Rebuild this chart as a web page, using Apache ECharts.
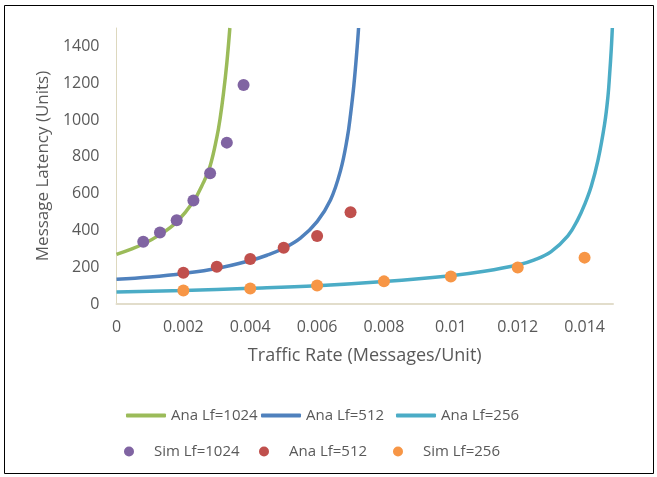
<!DOCTYPE html>
<html>
<head>
<meta charset="utf-8">
<script src="https://cdn.jsdelivr.net/npm/echarts@6/dist/echarts.min.js"></script>
<style>
  html, body { margin: 0; padding: 0; background: #fff; }
  #chart { width: 657px; height: 477px; }
</style>
</head>
<body>
<div id="chart"></div>
<script>
// Analytical latency curves: [traffic rate, latency]
const anaLf1024 = [[0,270],[0.0004,296],[0.0008,326],[0.0013,377],[0.0018,446],[0.0023,557],[0.0026,660],[0.0028,750],[0.003,905],[0.0031,1010],[0.0032,1145],[0.0033,1310],[0.00339,1500]];
const anaLf512 = [[0,134],[0.001,147],[0.002,166],[0.003,193],[0.004,236],[0.0045,265],[0.005,303],[0.0055,358],[0.006,448],[0.0064,565],[0.0067,725],[0.0069,900],[0.007,1030],[0.0071,1190],[0.0072,1400],[0.00724,1500]];
const anaLf256 = [[0,65],[0.002,74],[0.004,85],[0.006,99],[0.008,122],[0.010,154],[0.011,178],[0.012,212],[0.0125,240],[0.013,285],[0.0135,370],[0.0138,460],[0.014,540],[0.0142,640],[0.0144,780],[0.0146,980],[0.0147,1130],[0.01475,1250],[0.0148,1390],[0.01483,1500]];

// Simulation results
const simLf1024 = [[0.0008,338],[0.0013,388],[0.0018,455],[0.0023,562],[0.0028,711],[0.0033,877],[0.0038,1190]];
const simLf512 = [[0.002,170],[0.003,203],[0.004,245],[0.005,306],[0.006,370],[0.007,499]];
const simLf256 = [[0.002,74],[0.004,84],[0.006,100],[0.008,123],[0.010,149],[0.012,198],[0.014,252]];

// Legend labels as printed on the chart
const legendLabels = {
  'Ana Lf=1024': 'Ana Lf=1024',
  'Ana Lf=512': 'Ana Lf=512',
  'Ana Lf=256': 'Ana Lf=256',
  'Sim Lf=1024': 'Sim Lf=1024',
  'Sim Lf=512': 'Ana Lf=512',
  'Sim Lf=256': 'Sim Lf=256'
};

const FONT = '"Open Sans", sans-serif';
const TXT = '#595959';
const colors = {
  green: '#9BBB59', blue: '#4F81BD', cyan: '#4BACC6',
  purple: '#8064A2', red: '#C0504D', orange: '#F79646'
};

function lineSeries(name, data, color) {
  return {
    name, type: 'line', data, showSymbol: false, symbol: 'none',
    smooth: 0.4,
    lineStyle: { color, width: 3.5 }, itemStyle: { color },
    clip: true, z: 2
  };
}
function dotSeries(name, data, color) {
  return {
    name, type: 'scatter', data, symbol: 'circle', symbolSize: 12,
    itemStyle: { color, opacity: 1 }, z: 3
  };
}

function legendItem(name, left, top, isLine) {
  return {
    data: [name], left, top, orient: 'horizontal',
    icon: isLine ? 'roundRect' : 'circle',
    itemWidth: 40, itemHeight: isLine ? 4 : 10,
    textStyle: { fontFamily: FONT, fontSize: 15, color: TXT },
    formatter: n => legendLabels[n],
    selectedMode: false
  };
}

const chart = echarts.init(document.getElementById('chart'), null, { renderer: 'canvas' });
chart.setOption({
  animation: false,
  backgroundColor: '#fff',
  grid: { left: 116.5, right: 44, top: 28, bottom: 173 },
  xAxis: {
    type: 'value', min: 0, max: 0.01485, interval: 0.002,
    name: 'Traffic Rate (Messages/Unit)', nameLocation: 'middle', nameGap: 43,
    nameTextStyle: { fontFamily: FONT, fontSize: 18, color: TXT },
    axisLine: { show: true, lineStyle: { color: '#E2DDCB', width: 2 } },
    axisTick: { show: false },
    splitLine: { show: false },
    axisLabel: {
      fontFamily: FONT, fontSize: 16, color: TXT, margin: 15,
      showMaxLabel: false,
      formatter: v => String(Math.round(v * 1e6) / 1e6)
    }
  },
  yAxis: {
    type: 'value', min: 0, max: 1500, interval: 200,
    name: 'Message Latency (Units)', nameLocation: 'middle', nameGap: 56,
    nameTextStyle: { fontFamily: FONT, fontSize: 17, color: TXT },
    axisLine: { show: true, lineStyle: { color: '#DDD8BE', width: 1 } },
    axisTick: { show: false },
    splitLine: { show: false },
    axisLabel: {
      fontFamily: FONT, fontSize: 16, color: TXT, margin: 17,
      showMaxLabel: false,
      formatter: v => String(v)
    }
  },
  legend: [
    legendItem('Ana Lf=1024', 121, 403, true),
    legendItem('Ana Lf=512', 256, 403, true),
    legendItem('Ana Lf=256', 391, 403, true),
    legendItem('Sim Lf=1024', 119, 439, false),
    legendItem('Sim Lf=512', 254, 439, false),
    legendItem('Sim Lf=256', 388, 439, false)
  ],
  graphic: [{
    type: 'rect', silent: true, z: 100,
    shape: { x: 4.5, y: 5.5, width: 649, height: 468 },
    style: { fill: 'none', stroke: '#000', lineWidth: 1 }
  }],
  series: [
    lineSeries('Ana Lf=1024', anaLf1024, colors.green),
    lineSeries('Ana Lf=512', anaLf512, colors.blue),
    lineSeries('Ana Lf=256', anaLf256, colors.cyan),
    dotSeries('Sim Lf=1024', simLf1024, colors.purple),
    dotSeries('Sim Lf=512', simLf512, colors.red),
    dotSeries('Sim Lf=256', simLf256, colors.orange)
  ]
});
</script>
</body>
</html>
